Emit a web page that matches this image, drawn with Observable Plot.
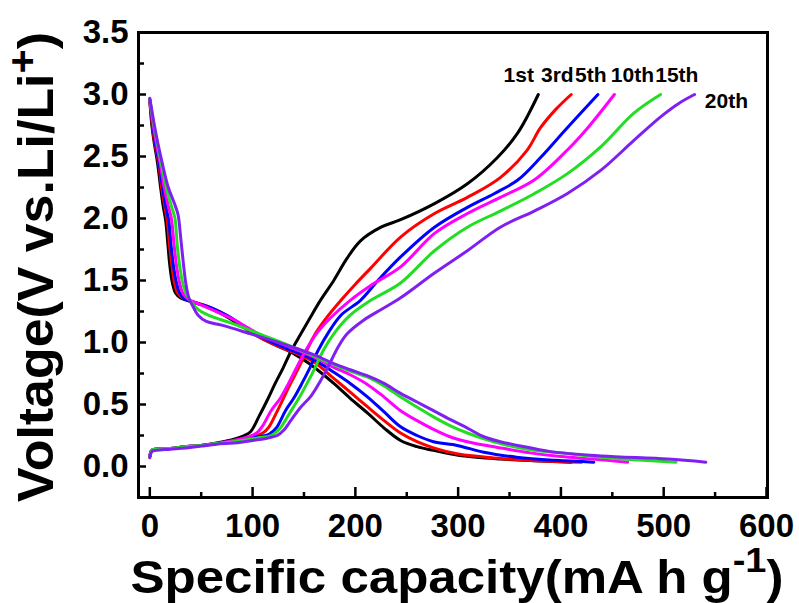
<!DOCTYPE html>
<html><head><meta charset="utf-8">
<script src="https://cdn.jsdelivr.net/npm/d3@7"></script>
<script src="https://cdn.jsdelivr.net/npm/@observablehq/plot@0.6"></script>
<style>
html,body{margin:0;padding:0;background:#fff;}
#chart{width:799px;height:603px;}
</style></head><body><div id="chart"></div>
<script>
// ---- categories / labels ----
const cycles = ["1st","3rd","5th","10th","15th","20th"];
const cycleColors = ["#000000","#ff0000","#0000ff","#ff00ff","#22dd22","#8020f0"];
const labelCap = [359, 396.5, 429, 469.6, 512.8, 561];
const labelVolt = [3.153, 3.153, 3.153, 3.153, 3.153, 2.944];
const xMajorTicks = [0,100,200,300,400,500,600];
const xMinorTicks = [50,150,250,350,450,550];
const yMajorTicks = [0,0.5,1,1.5,2,2.5,3,3.5];
const yMinorTicks = [0.25,0.75,1.25,1.75,2.25,2.75,3.25];
const xTitleParts = ["Specific capacity(mA h g","-1",")"];
const yTitleParts = ["Voltage(V vs.Li/Li","+",")"];

// ---- discharge curves [capacity mAh/g, voltage V] ----
const discharge1st = [[0,2.95],[2,2.75],[4.5,2.6],[7.5,2.45],[10.5,2.25],[13,2.1],[15.5,1.98],[17.5,1.8],[19.5,1.62],[22,1.48],[25,1.4],[30,1.36],[40,1.33],[55,1.29],[70,1.23],[88,1.14],[105,1.05],[122,0.98],[140,0.91],[155,0.83],[166,0.76],[179,0.67],[195,0.55],[212,0.43],[228,0.31],[244,0.21],[260,0.16],[276,0.13],[300,0.09],[341,0.06],[380,0.045],[410,0.035]];
const discharge3rd = [[0,2.95],[2.5,2.75],[5,2.6],[8.5,2.45],[11.5,2.25],[14.5,2.1],[17,1.98],[19,1.8],[21.5,1.62],[24,1.48],[27,1.4],[32,1.36],[42,1.33],[57,1.29],[72,1.23],[90,1.14],[105,1.05],[122,0.98],[140,0.92],[160,0.84],[179,0.71],[195,0.6],[212,0.48],[228,0.37],[244,0.27],[260,0.2],[276,0.15],[300,0.1],[341,0.065],[380,0.045],[420,0.035]];
const discharge5th = [[0,2.96],[3,2.75],[5.5,2.6],[9,2.45],[12.5,2.25],[15.5,2.1],[18.5,1.98],[20.5,1.8],[23,1.62],[26,1.48],[29,1.4],[34,1.35],[45,1.32],[60,1.28],[75,1.22],[92,1.13],[105,1.06],[122,0.99],[140,0.93],[160,0.86],[179,0.76],[195,0.67],[212,0.56],[228,0.44],[244,0.32],[260,0.25],[276,0.2],[299,0.17],[325,0.115],[357,0.075],[395,0.05],[432,0.035]];
const discharge10th = [[0,2.96],[3.5,2.75],[6.5,2.6],[10,2.45],[14,2.25],[18,2.1],[21,2.0],[23.5,1.8],[26,1.62],[29,1.48],[32,1.4],[37,1.35],[48,1.31],[62,1.26],[78,1.2],[95,1.12],[108,1.06],[125,1.0],[140,0.95],[160,0.88],[179,0.8],[195,0.74],[212,0.66],[228,0.56],[244,0.45],[260,0.37],[276,0.3],[292,0.24],[309,0.2],[341,0.15],[370,0.11],[400,0.08],[430,0.06],[465,0.035]];
const discharge15th = [[0,2.96],[4,2.75],[7.5,2.6],[11,2.45],[16,2.25],[21,2.1],[24.5,2.0],[26.5,1.8],[29,1.62],[32,1.48],[35,1.4],[40,1.33],[48,1.26],[60,1.21],[78,1.16],[100,1.09],[125,1.01],[140,0.96],[160,0.89],[179,0.82],[195,0.77],[212,0.72],[228,0.65],[244,0.56],[260,0.48],[276,0.4],[292,0.33],[309,0.27],[341,0.185],[374,0.13],[400,0.11],[439,0.075],[480,0.05],[512,0.035]];
const discharge20th = [[0,2.97],[4.5,2.75],[8,2.6],[12,2.45],[18,2.25],[24,2.12],[27.5,2.03],[30,1.85],[32.5,1.65],[35,1.48],[38,1.36],[42,1.29],[47,1.22],[55,1.17],[70,1.14],[98,1.07],[125,1.0],[140,0.96],[160,0.9],[179,0.83],[195,0.78],[212,0.73],[228,0.67],[244,0.59],[260,0.52],[276,0.45],[292,0.38],[309,0.31],[325,0.24],[341,0.2],[358,0.17],[390,0.12],[439,0.085],[504,0.06],[541,0.035]];

// ---- charge curves [capacity mAh/g, voltage V] ----
const charge1st = [[0,0.08],[2,0.13],[6,0.14],[20,0.145],[35,0.16],[50,0.17],[65,0.19],[82,0.22],[92,0.25],[98,0.28],[106,0.4],[114,0.53],[122,0.67],[130,0.8],[138,0.94],[147,1.07],[156,1.2],[166,1.34],[179,1.5],[192,1.68],[205,1.82],[225,1.93],[244,1.99],[277,2.12],[309,2.28],[338,2.49],[358,2.69],[378,3.0]];
const charge3rd = [[0,0.08],[2,0.13],[6,0.14],[20,0.145],[35,0.16],[50,0.17],[65,0.185],[82,0.21],[100,0.24],[110,0.27],[116,0.32],[123,0.43],[130,0.55],[137,0.67],[145,0.8],[153,0.94],[161,1.07],[172,1.2],[186,1.34],[200,1.47],[215,1.6],[244,1.85],[277,2.04],[309,2.17],[341,2.33],[367,2.55],[380,2.73],[395,2.88],[410,3.0]];
const charge5th = [[0,0.08],[2,0.13],[6,0.14],[20,0.145],[35,0.16],[50,0.17],[65,0.185],[82,0.21],[105,0.24],[116,0.26],[123,0.31],[132,0.45],[140,0.55],[148,0.67],[156,0.8],[164,0.94],[173,1.07],[186,1.22],[205,1.34],[222,1.5],[244,1.69],[277,1.93],[309,2.09],[335,2.2],[358,2.31],[380,2.49],[406,2.73],[436,3.0]];
const charge10th = [[0,0.08],[2,0.13],[6,0.14],[20,0.145],[35,0.16],[50,0.17],[65,0.185],[82,0.21],[96,0.24],[104,0.27],[110,0.33],[118,0.45],[127,0.55],[135,0.67],[143,0.8],[152,0.94],[162,1.07],[176,1.2],[195,1.34],[215,1.46],[244,1.61],[277,1.88],[309,2.04],[341,2.17],[374,2.31],[406,2.55],[426,2.73],[452,3.0]];
const charge15th = [[0,0.08],[2,0.13],[6,0.14],[20,0.145],[35,0.16],[50,0.17],[65,0.185],[82,0.2],[105,0.23],[118,0.25],[126,0.3],[136,0.43],[145,0.55],[153,0.67],[161,0.8],[169,0.94],[179,1.07],[195,1.22],[215,1.34],[244,1.48],[277,1.74],[309,1.93],[341,2.06],[374,2.2],[406,2.36],[439,2.58],[471,2.85],[497,3.0]];
const charge20th = [[0,0.07],[2,0.12],[6,0.13],[20,0.14],[35,0.15],[50,0.165],[65,0.18],[82,0.19],[100,0.21],[115,0.23],[124,0.25],[130,0.29],[138,0.38],[146,0.47],[157,0.57],[166,0.69],[175,0.83],[183,0.96],[192,1.07],[208,1.18],[226,1.27],[244,1.36],[277,1.56],[309,1.74],[341,1.93],[374,2.06],[406,2.2],[439,2.39],[471,2.63],[497,2.82],[515,2.93],[530,3.0]];

const dischargeCurves = [discharge1st, discharge3rd, discharge5th, discharge10th, discharge15th, discharge20th];
const chargeCurves = [charge1st, charge3rd, charge5th, charge10th, charge15th, charge20th];

const rows = [];
cycles.forEach((c, i) => {
  dischargeCurves[i].forEach(([cap, v]) => rows.push({cycle: c, id: c + "-d", cap, v}));
  chargeCurves[i].forEach(([cap, v]) => rows.push({cycle: c, id: c + "-c", cap, v}));
});

const FONT = "'Liberation Sans', Arial, Helvetica, sans-serif";
const xTitle = xTitleParts.join("");
const yTitle = yTitleParts.join("");

const chart = Plot.plot({
  width: 799, height: 603,
  marginLeft: 138, marginRight: 32, marginTop: 32, marginBottom: 106,
  style: {fontFamily: FONT, background: "#ffffff", color: "#000", overflow: "visible"},
  x: {domain: [-11, 601], axis: null},
  y: {domain: [-0.25, 3.5], axis: null},
  color: {domain: cycles, range: cycleColors},
  marks: [
    Plot.line(rows, {x: "cap", y: "v", z: "id", stroke: "cycle", strokeWidth: 3, curve: "catmull-rom"}),
    Plot.axisX(xMajorTicks, {tickSize: -10, fill: "none", strokeWidth: 2.5, label: null}),
    Plot.axisX(xMinorTicks, {tickSize: -5, fill: "none", strokeWidth: 2.5, label: null}),
    Plot.axisX(xMajorTicks, {tickSize: 0, tickPadding: 16, fontSize: 33, fontWeight: "bold", fill: "#000", label: null}),
    Plot.axisY(yMajorTicks, {tickSize: -8, fill: "none", strokeWidth: 2.5, label: null}),
    Plot.axisY(yMinorTicks, {tickSize: -6, fill: "none", strokeWidth: 2.5, label: null}),
    Plot.axisY(yMajorTicks, {tickSize: 0, tickPadding: 10, fontSize: 33, fontWeight: "bold", fill: "#000", tickFormat: d3.format(".1f"), label: null}),
    Plot.frame({stroke: "#000", strokeWidth: 3}),
    Plot.text(cycles, {x: (d, i) => labelCap[i], y: (d, i) => labelVolt[i], text: d => d, fontSize: 21, fontWeight: "bold", fill: "#000"}),
    Plot.text([xTitle], {frameAnchor: "bottom", textAnchor: "middle", lineAnchor: "middle", dx: 4, dy: 80, text: d => d, fontSize: 47, fontWeight: "bold", fill: "#000"}),
    Plot.text([yTitle], {frameAnchor: "left", textAnchor: "middle", lineAnchor: "middle", dx: -102, dy: 2, rotate: -90, text: d => d, fontSize: 50, fontWeight: "bold", fill: "#000"})
  ]
});

// superscripts and stretched title glyphs
const NS = "http://www.w3.org/2000/svg";
function rebuild(t, parts, supSize, rise, len) {
  while (t.firstChild) t.removeChild(t.firstChild);
  const a = document.createElementNS(NS, "tspan"); a.textContent = parts[0]; t.appendChild(a);
  const b = document.createElementNS(NS, "tspan"); b.textContent = parts[1];
  b.setAttribute("font-size", supSize); b.setAttribute("dy", -rise); t.appendChild(b);
  const c = document.createElementNS(NS, "tspan"); c.textContent = parts[2];
  c.setAttribute("dy", rise); t.appendChild(c);
  t.setAttribute("textLength", len);
  t.setAttribute("lengthAdjust", "spacingAndGlyphs");
}
chart.querySelectorAll("text").forEach(t => {
  if (t.textContent === xTitle) rebuild(t, xTitleParts, 35, 21, 653);
  else if (t.textContent === yTitle) rebuild(t, yTitleParts, 40, 17, 470);
});

document.getElementById("chart").appendChild(chart);
</script>
</body></html>
